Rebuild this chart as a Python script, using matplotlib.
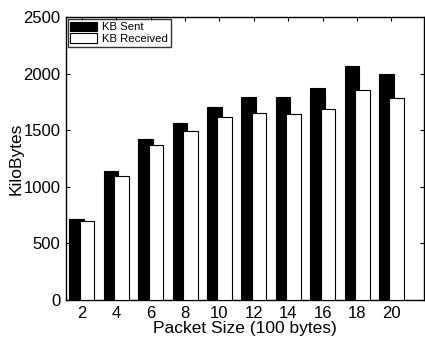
import numpy as np
import matplotlib
matplotlib.use('Agg')
import matplotlib.pyplot as plt

plt.rcParams['font.family'] = ['Liberation Sans', 'DejaVu Sans']

packet_size = [2, 4, 6, 8, 10, 12, 14, 16, 18, 20]
kb_sent = [713, 1140, 1425, 1566, 1708, 1791, 1796, 1870, 2067, 1994]
kb_received = [698, 1095, 1366, 1496, 1614, 1649, 1646, 1685, 1852, 1787]

fig = plt.figure(figsize=(4.25, 3.39), dpi=100)
ax = fig.add_axes([0.155, 0.115, 0.843, 0.835])

x = np.array(packet_size, dtype=float)
w = 0.85
ax.bar(x - 0.3, kb_sent, width=w, color='black', edgecolor='black',
       linewidth=0.8, label='KB Sent', zorder=2)
ax.bar(x + 0.3, kb_received, width=w, color='white', edgecolor='black',
       linewidth=0.8, label='KB Received', zorder=3)

ax.set_xlim(1.07, 21.9)
ax.set_ylim(0, 2500)
ax.set_xticks(packet_size)
ax.set_yticks([0, 500, 1000, 1500, 2000, 2500])
ax.tick_params(direction='in', top=True, right=True, labelsize=12,
               length=3, width=0.8, pad=4)
for s in ax.spines.values():
    s.set_linewidth(1.0)

ax.set_xlabel('Packet Size (100 bytes)', fontsize=12.5, labelpad=0)
ax.set_ylabel('KiloBytes', fontsize=12.5, labelpad=0)

leg = ax.legend(loc='upper left', fontsize=8.2, frameon=True, fancybox=False,
                edgecolor='black', borderpad=0.25, labelspacing=0.1,
                handlelength=2.3, handleheight=0.9, borderaxespad=0.15,
                handletextpad=0.5)
leg.get_frame().set_linewidth(1.0)

fig.savefig('out.png', dpi=100)
